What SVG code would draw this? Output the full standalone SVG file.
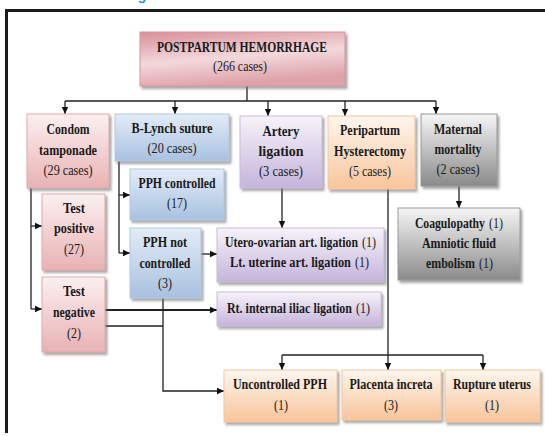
<svg xmlns="http://www.w3.org/2000/svg" width="545" height="436" viewBox="0 0 545 436">
<style>
text{font-family:"Liberation Serif","Times New Roman",serif;font-size:14.5px;fill:#1a1a1a;text-anchor:middle}
.b{font-weight:bold}
.s{text-anchor:start}
.box{filter:url(#sh);stroke-width:1}
.pink{fill:url(#gPink);stroke:#e4a7a9}
.blue{fill:url(#gBlue);stroke:#b3c9e4}
.purple{fill:url(#gPurple);stroke:#c9bcdb}
.orange{fill:url(#gOrange);stroke:#f3c6a0}
.gray{fill:url(#gGray);stroke:#9a9a9a}
.root{fill:url(#gRoot);stroke:#d9969d}
.ln{fill:none;stroke:#222;stroke-width:1.3}
.ar{marker-end:url(#ah)}
.frame{fill:none;stroke:#1a1a1a;stroke-width:3}
</style>
<defs>
<linearGradient id="gRoot" x1="0" y1="0" x2="0.3" y2="1">
<stop offset="0" stop-color="#d98f98"/><stop offset="0.55" stop-color="#f3d8db"/><stop offset="1" stop-color="#dea3aa"/>
</linearGradient>
<linearGradient id="gPink" x1="0" y1="0" x2="0" y2="1">
<stop offset="0" stop-color="#fcf0f0"/><stop offset="1" stop-color="#e8b2b3"/>
</linearGradient>
<linearGradient id="gBlue" x1="0" y1="0" x2="0" y2="1">
<stop offset="0" stop-color="#e3ecf7"/><stop offset="1" stop-color="#a8c1e0"/>
</linearGradient>
<linearGradient id="gPurple" x1="0" y1="0" x2="0" y2="1">
<stop offset="0" stop-color="#f6f3fa"/><stop offset="1" stop-color="#c5b4db"/>
</linearGradient>
<linearGradient id="gOrange" x1="0" y1="0" x2="0" y2="1">
<stop offset="0" stop-color="#fff6ee"/><stop offset="1" stop-color="#f8c59b"/>
</linearGradient>
<linearGradient id="gGray" x1="0" y1="0" x2="0" y2="1">
<stop offset="0" stop-color="#f6f6f6"/><stop offset="1" stop-color="#8a8a8a"/>
</linearGradient>
<filter id="sh" x="-10%" y="-10%" width="125%" height="130%">
<feDropShadow dx="2" dy="2.5" stdDeviation="1" flood-color="#6d6d6d" flood-opacity="0.6"/>
</filter>
<marker id="ah" markerUnits="userSpaceOnUse" markerWidth="8" markerHeight="8" refX="7" refY="4" orient="auto">
<path d="M0,0.8 L7,4 L0,7.2 Z" fill="#111"/>
</marker>
</defs>
<rect width="545" height="436" fill="#fff"/>
<text x="142" y="0" style="font-family:'Liberation Sans',Arial,sans-serif;font-size:14px;font-weight:bold;fill:#1e8fe0">g</text>
<path class="frame" d="M6.5,433 V10.5 H545"/>

<g id="connectors">
<path class="ln" d="M247,86 V101 M65,101 H436"/>
<path class="ln ar" d="M65,101 V114"/>
<path class="ln ar" d="M175,101 V114"/>
<path class="ln ar" d="M268,101 V116"/>
<path class="ln ar" d="M345,101 V116"/>
<path class="ln ar" d="M436,101 V114"/>
<path class="ln" d="M31,188 V309"/>
<path class="ln ar" d="M31,226 H42"/>
<path class="ln ar" d="M31,309 H42"/>
<path class="ln" d="M119,161 V253"/>
<path class="ln ar" d="M119,195 H130"/>
<path class="ln ar" d="M119,253 H130"/>
<path class="ln ar" d="M201,254 H217"/>
<path class="ln ar" d="M282,188 V228"/>
<path class="ln ar" d="M105,310 H217" style="stroke-width:1.8"/>
<path class="ln" d="M105,326 H163"/>
<path class="ln ar" d="M163,298 V391 H224"/>
<path class="ln ar" d="M388,189 V370"/>
<path class="ln" d="M282,355 H483"/>
<path class="ln ar" d="M282,355 V370"/>
<path class="ln ar" d="M483,355 V370"/>
<path class="ln ar" d="M459,186 V208"/>
</g>

<g id="root">
<rect class="box root" x="140" y="32" width="205" height="54"/>
<g transform="scale(0.84 1)">
<text class="b" x="288.1" y="52" textLength="202.4" lengthAdjust="spacingAndGlyphs">POSTPARTUM HEMORRHAGE</text>
<text x="285.7" y="71" textLength="64.3" lengthAdjust="spacingAndGlyphs">(266 cases)</text>
</g>
</g>

<g id="condom">
<rect class="box pink" x="27" y="114" width="82" height="74"/>
<g transform="scale(0.84 1)">
<text class="b" x="81" y="134" textLength="51.2" lengthAdjust="spacingAndGlyphs">Condom</text>
<text class="b" x="81" y="155" textLength="69" lengthAdjust="spacingAndGlyphs">tamponade</text>
<text x="81" y="175" textLength="58.3" lengthAdjust="spacingAndGlyphs">(29 cases)</text>
</g>
</g>

<g id="blynch">
<rect class="box blue" x="115" y="114" width="114" height="47"/>
<g transform="scale(0.84 1)">
<text class="b" x="204.8" y="133" textLength="96.4" lengthAdjust="spacingAndGlyphs">B-Lynch suture</text>
<text x="204.8" y="153" textLength="58.3" lengthAdjust="spacingAndGlyphs">(20 cases)</text>
</g>
</g>

<g id="artery">
<rect class="box purple" x="240" y="116" width="82" height="72"/>
<g transform="scale(0.84 1)">
<text class="b" x="334.5" y="136" textLength="44" lengthAdjust="spacingAndGlyphs">Artery</text>
<text class="b" x="334.5" y="156" textLength="53.6" lengthAdjust="spacingAndGlyphs">ligation</text>
<text x="334.5" y="176" textLength="52.4" lengthAdjust="spacingAndGlyphs">(3 cases)</text>
</g>
</g>

<g id="hysterectomy">
<rect class="box orange" x="328" y="116" width="87" height="73"/>
<g transform="scale(0.84 1)">
<text class="b" x="440.5" y="135" textLength="71.4" lengthAdjust="spacingAndGlyphs">Peripartum</text>
<text class="b" x="440.5" y="156" textLength="85.7" lengthAdjust="spacingAndGlyphs">Hysterectomy</text>
<text x="440.5" y="176" textLength="50" lengthAdjust="spacingAndGlyphs">(5 cases)</text>
</g>
</g>

<g id="maternal">
<rect class="box gray" x="421" y="114" width="76" height="72"/>
<g transform="scale(0.84 1)">
<text class="b" x="545.2" y="134" textLength="57.1" lengthAdjust="spacingAndGlyphs">Maternal</text>
<text class="b" x="545.2" y="154" textLength="56" lengthAdjust="spacingAndGlyphs">mortality</text>
<text x="545.2" y="174" textLength="51.2" lengthAdjust="spacingAndGlyphs">(2 cases)</text>
</g>
</g>

<g id="testpos">
<rect class="box pink" x="42" y="194" width="63" height="76"/>
<g transform="scale(0.84 1)">
<text class="b" x="88.1" y="213" textLength="26.2" lengthAdjust="spacingAndGlyphs">Test</text>
<text class="b" x="88.1" y="233" textLength="47.6" lengthAdjust="spacingAndGlyphs">positive</text>
<text x="88.1" y="254" textLength="23.8" lengthAdjust="spacingAndGlyphs">(27)</text>
</g>
</g>

<g id="testneg">
<rect class="box pink" x="42" y="277" width="63" height="75"/>
<g transform="scale(0.84 1)">
<text class="b" x="88.1" y="296" textLength="26.2" lengthAdjust="spacingAndGlyphs">Test</text>
<text class="b" x="88.1" y="317" textLength="50" lengthAdjust="spacingAndGlyphs">negative</text>
<text x="88.1" y="338" textLength="16.7" lengthAdjust="spacingAndGlyphs">(2)</text>
</g>
</g>

<g id="pphcontrolled">
<rect class="box blue" x="130" y="169" width="94" height="51"/>
<g transform="scale(0.84 1)">
<text class="b" x="210.7" y="188" textLength="91.7" lengthAdjust="spacingAndGlyphs">PPH controlled</text>
<text x="210.7" y="208" textLength="23.8" lengthAdjust="spacingAndGlyphs">(17)</text>
</g>
</g>

<g id="pphnot">
<rect class="box blue" x="130" y="228" width="71" height="70"/>
<g transform="scale(0.84 1)">
<text class="b" x="196.4" y="247" textLength="52.4" lengthAdjust="spacingAndGlyphs">PPH not</text>
<text class="b" x="196.4" y="268" textLength="60.7" lengthAdjust="spacingAndGlyphs">controlled</text>
<text x="196.4" y="288" textLength="16.7" lengthAdjust="spacingAndGlyphs">(3)</text>
</g>
</g>

<g id="utero">
<rect class="box purple" x="217" y="228" width="167" height="54"/>
<g transform="scale(0.84 1)">
<text class="b s" x="267.9" y="247" textLength="158.3" lengthAdjust="spacingAndGlyphs">Utero-ovarian art. ligation</text>
<text class="s" x="431" y="247" textLength="16.7" lengthAdjust="spacingAndGlyphs">(1)</text>
<text class="b s" x="273.8" y="267" textLength="144" lengthAdjust="spacingAndGlyphs">Lt. uterine art. ligation</text>
<text class="s" x="422.6" y="267" textLength="16.7" lengthAdjust="spacingAndGlyphs">(1)</text>
</g>
</g>

<g id="iliac">
<rect class="box purple" x="217" y="292" width="164" height="34"/>
<g transform="scale(0.84 1)">
<text class="b s" x="270.2" y="313" textLength="148.8" lengthAdjust="spacingAndGlyphs">Rt. internal iliac ligation</text>
<text class="s" x="423.8" y="313" textLength="16.7" lengthAdjust="spacingAndGlyphs">(1)</text>
</g>
</g>

<g id="coag">
<rect class="box gray" x="398" y="208" width="122" height="72"/>
<g transform="scale(0.84 1)">
<text class="b s" x="494" y="228" textLength="83.3" lengthAdjust="spacingAndGlyphs">Coagulopathy</text>
<text class="s" x="582.1" y="228" textLength="16.7" lengthAdjust="spacingAndGlyphs">(1)</text>
<text class="b" x="546.4" y="248" textLength="88.1" lengthAdjust="spacingAndGlyphs">Amniotic fluid</text>
<text class="b s" x="507.1" y="268" textLength="58.3" lengthAdjust="spacingAndGlyphs">embolism</text>
<text class="s" x="570.2" y="268" textLength="16.7" lengthAdjust="spacingAndGlyphs">(1)</text>
</g>
</g>

<g id="uncontrolled">
<rect class="box orange" x="224" y="370" width="113" height="52"/>
<g transform="scale(0.84 1)">
<text class="b" x="333.3" y="389" textLength="111.9" lengthAdjust="spacingAndGlyphs">Uncontrolled PPH</text>
<text x="334.5" y="410" textLength="16.7" lengthAdjust="spacingAndGlyphs">(1)</text>
</g>
</g>

<g id="placenta">
<rect class="box orange" x="342" y="370" width="99" height="50"/>
<g transform="scale(0.84 1)">
<text class="b" x="465.5" y="389" textLength="98.8" lengthAdjust="spacingAndGlyphs">Placenta increta</text>
<text x="465.5" y="410" textLength="16.7" lengthAdjust="spacingAndGlyphs">(3)</text>
</g>
</g>

<g id="rupture">
<rect class="box orange" x="445" y="370" width="95" height="52"/>
<g transform="scale(0.84 1)">
<text class="b" x="585.7" y="389" textLength="92.9" lengthAdjust="spacingAndGlyphs">Rupture uterus</text>
<text x="585.7" y="410" textLength="16.7" lengthAdjust="spacingAndGlyphs">(1)</text>
</g>
</g>
</svg>
